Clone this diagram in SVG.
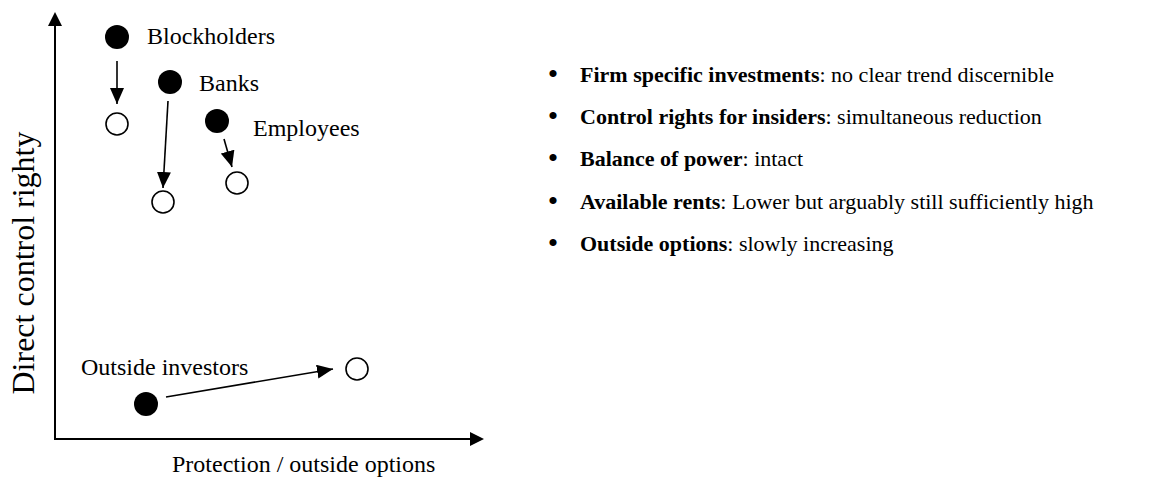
<svg xmlns="http://www.w3.org/2000/svg" width="1149" height="482" viewBox="0 0 1149 482">
<defs>
<style>
text{font-family:"Liberation Serif","Times New Roman",serif;fill:#000}
.lbl{font-size:24px}
.ax{font-size:24px}
.bl{font-size:22px}
.dot{font-size:30px}
.b{font-weight:bold}
.full{fill:#000}
.open{fill:#fff;stroke:#000;stroke-width:1.6}
.conn{stroke:#000;stroke-width:1.6;fill:none}
</style>
<marker id="ah" markerUnits="userSpaceOnUse" viewBox="0 0 16 14" refX="16" refY="7" markerWidth="16" markerHeight="14" orient="auto">
<path d="M0,0 L16,7 L0,14 Z" fill="#000"/>
</marker>
</defs>
<rect width="1149" height="482" fill="#fff"/>
<g id="axes">
<line x1="55" y1="440" x2="55" y2="24" stroke="#000" stroke-width="2"/>
<polygon points="55,12 48,26 62,26" fill="#000"/>
<line x1="54" y1="439" x2="471" y2="439" stroke="#000" stroke-width="2"/>
<polygon points="484,439 470,432 470,446" fill="#000"/>
<text class="ax" x="172" y="472">Protection / outside options</text>
<text class="ax" style="font-size:32px" transform="translate(34,263) rotate(-90)" text-anchor="middle">Direct control righty</text>
</g>
<g id="blockholders">
<circle class="full" cx="117" cy="37" r="12"/>
<text class="lbl" x="147" y="44">Blockholders</text>
<circle class="open" cx="117" cy="124" r="11"/>
</g>
<g id="banks">
<circle class="full" cx="170" cy="82" r="12"/>
<text class="lbl" x="199" y="91">Banks</text>
<circle class="open" cx="163" cy="202" r="11"/>
</g>
<g id="employees">
<circle class="full" cx="217" cy="121" r="12"/>
<text class="lbl" x="253" y="136">Employees</text>
<circle class="open" cx="237" cy="183" r="11"/>
</g>
<g id="outside-investors">
<text class="lbl" x="81" y="375">Outside investors</text>
<circle class="full" cx="146" cy="404" r="12"/>
<circle class="open" cx="357" cy="369" r="11"/>
</g>
<g id="connectors">
<line class="conn" x1="117" y1="61" x2="117" y2="104" marker-end="url(#ah)"/>
<line class="conn" x1="168" y1="101" x2="163" y2="188" marker-end="url(#ah)"/>
<line class="conn" x1="224" y1="139" x2="232" y2="167" marker-end="url(#ah)"/>
<line class="conn" x1="166" y1="397" x2="333" y2="369" marker-end="url(#ah)"/>
</g>
<g id="bullets" class="bl">
<text class="dot" x="553" y="84" text-anchor="middle">•</text>
<text x="580" y="82"><tspan class="b">Firm specific investments</tspan>: no clear trend discernible</text>
<text class="dot" x="553" y="126" text-anchor="middle">•</text>
<text x="580" y="124"><tspan class="b">Control rights for insiders</tspan>: simultaneous reduction</text>
<text class="dot" x="553" y="168" text-anchor="middle">•</text>
<text x="580" y="166"><tspan class="b">Balance of power</tspan>: intact</text>
<text class="dot" x="553" y="211" text-anchor="middle">•</text>
<text x="580" y="209"><tspan class="b">Available rents</tspan>: Lower but arguably still sufficiently high</text>
<text class="dot" x="553" y="253" text-anchor="middle">•</text>
<text x="580" y="251"><tspan class="b">Outside options</tspan>: slowly increasing</text>
</g>
</svg>
